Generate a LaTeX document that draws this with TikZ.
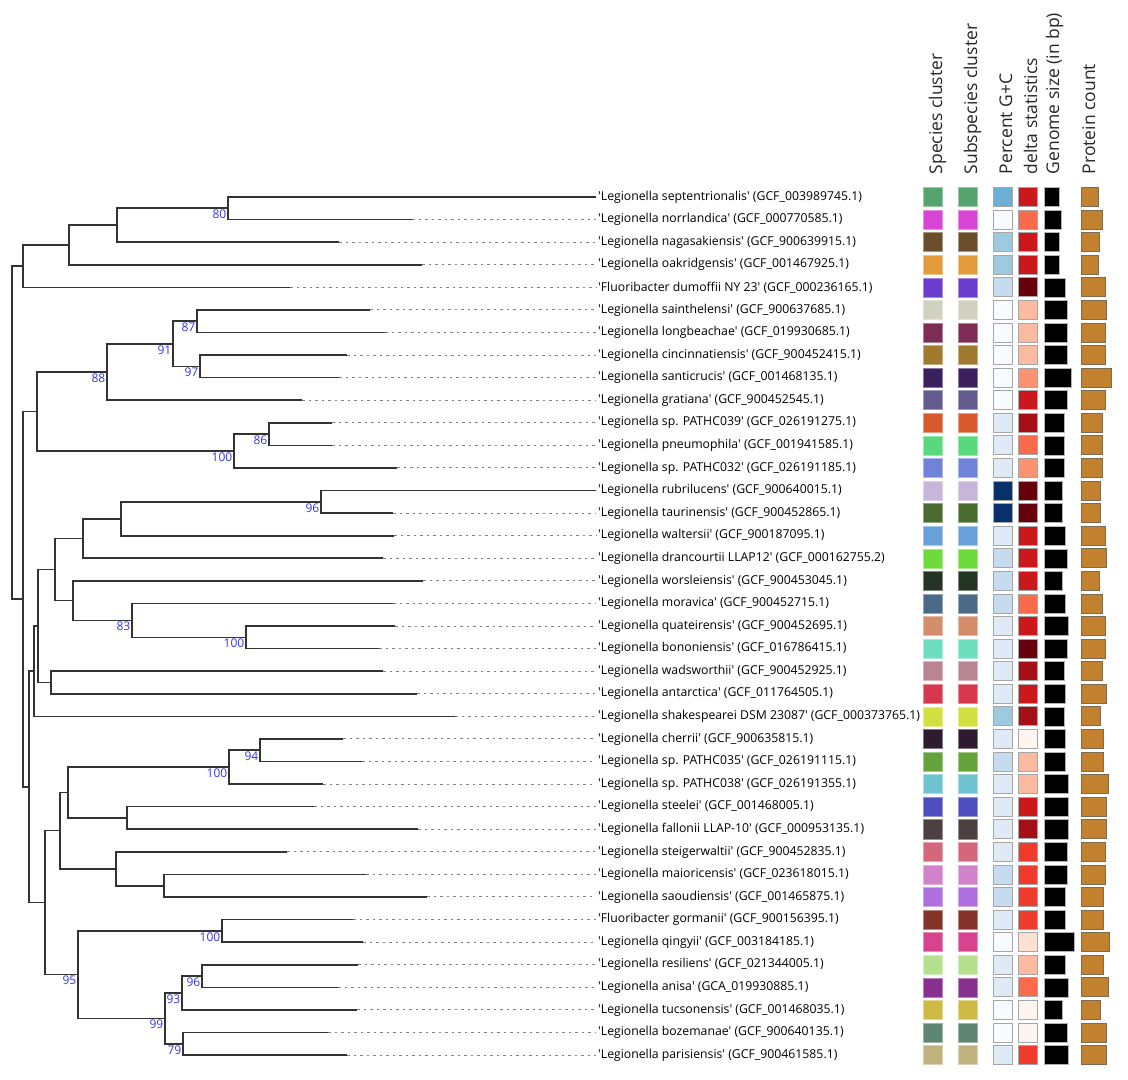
\documentclass[tikz,border=0pt]{standalone}
\usepackage{fontspec}
\setmainfont{Open Sans}
\newcommand{\tq}{\textquotesingle}
\definecolor{bootblue}{HTML}{3434EE}
\definecolor{treegray}{HTML}{333333}
\definecolor{protfill}{HTML}{C2812F}
\definecolor{protedge}{HTML}{7D6A4F}
\definecolor{gcA}{HTML}{F7FBFF}
\definecolor{gcB}{HTML}{DEEBF7}
\definecolor{gcC}{HTML}{C6DBEF}
\definecolor{gcD}{HTML}{9ECAE1}
\definecolor{gcE}{HTML}{6BAED6}
\definecolor{gcF}{HTML}{08306B}
\definecolor{dA}{HTML}{FFF5F0}
\definecolor{dB}{HTML}{FEE0D2}
\definecolor{dC}{HTML}{FCBBA1}
\definecolor{dD}{HTML}{FC9272}
\definecolor{dE}{HTML}{FB6A4A}
\definecolor{dF}{HTML}{EF3B2C}
\definecolor{dG}{HTML}{CB181D}
\definecolor{dH}{HTML}{A50F15}
\definecolor{dI}{HTML}{67000D}
\tikzset{
  branch/.style={treegray, line width=1.6pt},
  guide/.style={gray, line width=1pt, dash pattern=on 2.5pt off 4pt},
  leaf/.style={anchor=west, inner sep=2pt, font=\fontsize{12.25}{15}\selectfont},
  boot/.style={text=bootblue, inner sep=1.5pt, font=\fontsize{12}{14}\selectfont},
  sq/.style={minimum width=19pt, minimum height=19pt, inner sep=0},
  bar/.style={anchor=west, minimum height=19pt, inner sep=0},
  head/.style={rotate=90, anchor=base west, inner sep=0, text=black!85, font=\fontsize{17.5}{20}\selectfont}
}
\begin{document}
\begin{tikzpicture}[x=1pt, y=-22.58pt]
  \useasboundingbox (0,-7.7245) rectangle (1128,40.105);

  % column headers
  \node[head] (h1) at (942,0) {Species cluster};
  \node[head] (h2) at (977,0) {Subspecies cluster};
  \node[head] (h3) at (1012,0) {Percent G+C};
  \node[head] (h4) at (1037,0) {delta statistics};
  \node[head] (h5) at (1059,0) {Genome size (in bp)};
  \node[head] (h6) at (1095,0) {Protein count};

  % annotation columns
  \foreach \r/\spc/\gcl/\dlt/\gw/\pw in {
    1/55A36E/gcE/dG/15/16.7, 2/D845D4/gcA/dE/16.3/20.7, 3/6B4F2C/gcD/dG/15/18,
    4/E39B3C/gcD/dG/15/16.7, 5/6A3BCC/gcC/dI/21/23.7, 6/D1D1BF/gcA/dC/22.3/25.3,
    7/7D2D55/gcA/dC/22.3/23.7, 8/A07A2E/gcA/dC/22.3/23.7, 9/3B1F5F/gcA/dD/27/29.7,
    10/635A8E/gcA/dG/22.3/23.7, 11/D9582C/gcB/dH/19.3/20.7, 12/57D97C/gcB/dE/19.3/20.7,
    13/6F84D9/gcB/dD/19.3/20.7, 14/C7B6D9/gcF/dI/18/19.3, 15/4A6B2E/gcF/dI/18/19.3,
    16/6AA0D9/gcB/dG/21/23.7, 17/6DDB3C/gcC/dG/22.3/25.3, 18/243623/gcC/dG/18/18,
    19/4B6A88/gcC/dE/21/20.7, 20/D48D6B/gcB/dG/24/23.7, 21/6DDFBE/gcB/dI/22.3/23.7,
    22/B88591/gcB/dH/19.3/20.7, 23/D8384D/gcB/dG/21/25.3, 24/D3E041/gcD/dH/19.3/19.3,
    25/301A30/gcB/dA/21/22.3, 26/63A33A/gcC/dC/21/22.3, 27/6EC3D1/gcB/dC/24/26.7,
    28/4D4DC0/gcB/dG/24/25.3, 29/4D4040/gcB/dH/24/25.3, 30/D5677B/gcB/dF/22.3/23.7,
    31/D281CB/gcC/dF/22.3/23.7, 32/B06FE0/gcC/dF/21/22.3, 33/853228/gcB/dF/21/22.3,
    34/D9428E/gcA/dB/30/28.3, 35/B5E08E/gcB/dC/21/22.3, 36/88308F/gcB/dE/24/26.7,
    37/CDB944/gcA/dA/18/19.3, 38/5E8570/gcA/dA/22.3/25.3, 39/BFB27C/gcB/dF/24/25.3} {
    \definecolor{spc}{HTML}{\spc}
    \node[sq, fill=spc, draw=spc!60!white, line width=0.5pt] (s\r) at (932.5,\r) {};
    \node[sq, fill=spc, draw=spc!60!white, line width=0.5pt] (u\r) at (967.5,\r) {};
    \node[sq, fill=\gcl, draw=gray!70, line width=0.8pt] (g\r) at (1003,\r) {};
    \node[sq, fill=\dlt, draw=gray!70, line width=0.8pt] (d\r) at (1028,\r) {};
    \node[bar, fill=black, draw=gray!60, line width=0.5pt, minimum width=\gw pt] (b\r) at (1044.3,\r) {};
    \node[bar, fill=protfill, draw=protedge, line width=0.8pt, minimum width=\pw pt] (p\r) at (1081,\r) {};
  }

  % leaves
  \foreach \r/\tip/\txt in {
    1/596/{\tq Legionella septentrionalis\tq{} (GCF\_003989745.1)},
    2/412/{\tq Legionella norrlandica\tq{} (GCF\_000770585.1)},
    3/339/{\tq Legionella nagasakiensis\tq{} (GCF\_900639915.1)},
    4/422/{\tq Legionella oakridgensis\tq{} (GCF\_001467925.1)},
    5/290/{\tq Fluoribacter dumoffii NY 23\tq{} (GCF\_000236165.1)},
    6/370/{\tq Legionella sainthelensi\tq{} (GCF\_900637685.1)},
    7/385/{\tq Legionella longbeachae\tq{} (GCF\_019930685.1)},
    8/347/{\tq Legionella cincinnatiensis\tq{} (GCF\_900452415.1)},
    9/339/{\tq Legionella santicrucis\tq{} (GCF\_001468135.1)},
    10/302/{\tq Legionella gratiana\tq{} (GCF\_900452545.1)},
    11/332/{\tq Legionella sp. PATHC039\tq{} (GCF\_026191275.1)},
    12/332/{\tq Legionella pneumophila\tq{} (GCF\_001941585.1)},
    13/397/{\tq Legionella sp. PATHC032\tq{} (GCF\_026191185.1)},
    14/596/{\tq Legionella rubrilucens\tq{} (GCF\_900640015.1)},
    15/393/{\tq Legionella taurinensis\tq{} (GCF\_900452865.1)},
    16/394/{\tq Legionella waltersii\tq{} (GCF\_900187095.1)},
    17/383/{\tq Legionella drancourtii LLAP12\tq{} (GCF\_000162755.2)},
    18/423/{\tq Legionella worsleiensis\tq{} (GCF\_900453045.1)},
    19/393/{\tq Legionella moravica\tq{} (GCF\_900452715.1)},
    20/395/{\tq Legionella quateirensis\tq{} (GCF\_900452695.1)},
    21/379/{\tq Legionella bononiensis\tq{} (GCF\_016786415.1)},
    22/383/{\tq Legionella wadsworthii\tq{} (GCF\_900452925.1)},
    23/417/{\tq Legionella antarctica\tq{} (GCF\_011764505.1)},
    24/455/{\tq Legionella shakespearei DSM 23087\tq{} (GCF\_000373765.1)},
    25/343/{\tq Legionella cherrii\tq{} (GCF\_900635815.1)},
    26/362/{\tq Legionella sp. PATHC035\tq{} (GCF\_026191115.1)},
    27/323/{\tq Legionella sp. PATHC038\tq{} (GCF\_026191355.1)},
    28/314/{\tq Legionella steelei\tq{} (GCF\_001468005.1)},
    29/418/{\tq Legionella fallonii LLAP-10\tq{} (GCF\_000953135.1)},
    30/287/{\tq Legionella steigerwaltii\tq{} (GCF\_900452835.1)},
    31/366/{\tq Legionella maioricensis\tq{} (GCF\_023618015.1)},
    32/427/{\tq Legionella saoudiensis\tq{} (GCF\_001465875.1)},
    33/353/{\tq Fluoribacter gormanii\tq{} (GCF\_900156395.1)},
    34/363/{\tq Legionella qingyii\tq{} (GCF\_003184185.1)},
    35/358/{\tq Legionella resiliens\tq{} (GCF\_021344005.1)},
    36/338/{\tq Legionella anisa\tq{} (GCA\_019930885.1)},
    37/357/{\tq Legionella tucsonensis\tq{} (GCF\_001468035.1)},
    38/328/{\tq Legionella bozemanae\tq{} (GCF\_900640135.1)},
    39/347/{\tq Legionella parisiensis\tq{} (GCF\_900461585.1)}} {
    \coordinate (t\r) at (\tip,\r);
    \node[leaf] (l\r) at (596,\r) {\txt};
    \draw[guide] (t\r) -- (l\r.west);
  }

  % internal nodes
  \coordinate[label={[boot]below left:80}] (n80) at (228,1.5);
  \coordinate (nA) at (117,2.25);
  \coordinate (nB) at (69,3.125);
  \coordinate (nC) at (23,4.0625);
  \coordinate[label={[boot]below left:87}] (n87) at (197,6.5);
  \coordinate[label={[boot]below left:97}] (n97) at (200,8.5);
  \coordinate[label={[boot]below left:91}] (n91) at (173,7.5);
  \coordinate[label={[boot]below left:88}] (n88) at (107,8.75);
  \coordinate[label={[boot]below left:86}] (n86) at (269,11.5);
  \coordinate[label={[boot]below left:100}] (n100a) at (234,12.25);
  \coordinate (nD) at (37,10.5);
  \coordinate[label={[boot]below left:96}] (n96a) at (321,14.5);
  \coordinate (nE) at (121,15.25);
  \coordinate (nF) at (83,16.125);
  \coordinate[label={[boot]below left:100}] (n100b) at (246,20.5);
  \coordinate[label={[boot]below left:83}] (n83) at (132,19.75);
  \coordinate (nG) at (73,18.875);
  \coordinate (nH) at (55,17.5);
  \coordinate (nI) at (51,22.5);
  \coordinate (nJ) at (38,20);
  \coordinate (nK) at (34,22);
  \coordinate[label={[boot]below left:94}] (n94) at (260,25.5);
  \coordinate[label={[boot]below left:100}] (n100c) at (229,26.25);
  \coordinate (nL) at (127,28.5);
  \coordinate (nM) at (68,27.375);
  \coordinate (nN) at (164,31.5);
  \coordinate (nO) at (116,30.75);
  \coordinate (nP) at (60,29.0625);
  \coordinate[label={[boot]below left:100}] (n100d) at (222,33.5);
  \coordinate[label={[boot]below left:96}] (n96b) at (202,35.5);
  \coordinate[label={[boot]below left:93}] (n93) at (182,36.25);
  \coordinate[label={[boot]below left:79}] (n79) at (183,38.5);
  \coordinate[label={[boot]below left:99}] (n99) at (165,37.375);
  \coordinate[label={[boot]below left:95}] (n95) at (78,35.4375);
  \coordinate (nQ) at (45,32.25);
  \coordinate (nR) at (29,27.125);
  \coordinate (nS) at (23,18.8125);
  \coordinate (root) at (12,11.4375);

  % branches
  \draw[branch] (t1) -| (n80) |- (t2);
  \draw[branch] (n80) -| (nA) |- (t3);
  \draw[branch] (nA) -| (nB) |- (t4);
  \draw[branch] (nB) -| (nC) |- (t5);
  \draw[branch] (t6) -| (n87) |- (t7);
  \draw[branch] (t8) -| (n97) |- (t9);
  \draw[branch] (n87) -| (n91) |- (n97);
  \draw[branch] (n91) -| (n88) |- (t10);
  \draw[branch] (t11) -| (n86) |- (t12);
  \draw[branch] (n86) -| (n100a) |- (t13);
  \draw[branch] (n88) -| (nD) |- (n100a);
  \draw[branch] (t14) -| (n96a) |- (t15);
  \draw[branch] (n96a) -| (nE) |- (t16);
  \draw[branch] (nE) -| (nF) |- (t17);
  \draw[branch] (t20) -| (n100b) |- (t21);
  \draw[branch] (t19) -| (n83) |- (n100b);
  \draw[branch] (t18) -| (nG) |- (n83);
  \draw[branch] (nF) -| (nH) |- (nG);
  \draw[branch] (t22) -| (nI) |- (t23);
  \draw[branch] (nH) -| (nJ) |- (nI);
  \draw[branch] (nJ) -| (nK) |- (t24);
  \draw[branch] (t25) -| (n94) |- (t26);
  \draw[branch] (n94) -| (n100c) |- (t27);
  \draw[branch] (t28) -| (nL) |- (t29);
  \draw[branch] (n100c) -| (nM) |- (nL);
  \draw[branch] (t31) -| (nN) |- (t32);
  \draw[branch] (t30) -| (nO) |- (nN);
  \draw[branch] (nM) -| (nP) |- (nO);
  \draw[branch] (t33) -| (n100d) |- (t34);
  \draw[branch] (t35) -| (n96b) |- (t36);
  \draw[branch] (n96b) -| (n93) |- (t37);
  \draw[branch] (t38) -| (n79) |- (t39);
  \draw[branch] (n93) -| (n99) |- (n79);
  \draw[branch] (n100d) -| (n95) |- (n99);
  \draw[branch] (nP) -| (nQ) |- (n95);
  \draw[branch] (nK) -| (nR) |- (nQ);
  \draw[branch] (nD) -| (nS) |- (nR);
  \draw[branch] (nC) -| (root) |- (nS);
\end{tikzpicture}
\end{document}
